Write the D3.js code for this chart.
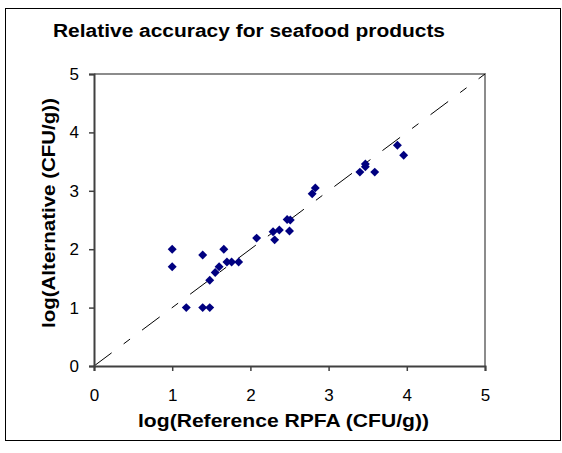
<!DOCTYPE html>
<html>
<head>
<meta charset="utf-8">
<script src="https://cdn.jsdelivr.net/npm/d3@7"></script>
<style>
  body { margin: 0; background: #fff; }
  text { font-family: Arial, "Liberation Sans", sans-serif; }
</style>
</head>
<body>
<svg id="chart" width="562" height="453"></svg>
<script>
// log(Reference RPFA) vs log(Alternative)
var refValues = [1.00, 1.00, 1.39, 1.66, 1.18, 1.39, 1.48, 1.48, 1.55, 1.60,
                 1.70, 1.76, 1.85, 2.08, 2.29, 2.31, 2.37, 2.50, 2.47, 2.51,
                 2.79, 2.83, 3.40, 3.47, 3.47, 3.59, 3.96, 3.88];
var altValues = [2.00, 1.70, 1.90, 2.00, 1.00, 1.00, 1.00, 1.47, 1.60, 1.70,
                 1.78, 1.78, 1.78, 2.19, 2.30, 2.16, 2.33, 2.31, 2.51, 2.50,
                 2.95, 3.05, 3.32, 3.46, 3.41, 3.32, 3.61, 3.78];
var xTicks = [0, 1, 2, 3, 4, 5];
var yTicks = [0, 1, 2, 3, 4, 5];

var svg = d3.select("#chart");
var margin = {left: 94, top: 74, right: 77, bottom: 87};
var width = 562 - margin.left - margin.right,
    height = 453 - margin.top - margin.bottom;

// outer frame
svg.append("rect")
  .attr("x", 5.5).attr("y", 8.5)
  .attr("width", 555).attr("height", 432)
  .attr("fill", "none").attr("stroke", "#000").attr("stroke-width", 1);

svg.append("text")
  .attr("x", 53).attr("y", 37)
  .attr("font-size", "17.5px").attr("font-weight", "bold")
  .attr("textLength", 392).attr("lengthAdjust", "spacingAndGlyphs")
  .text("Relative accuracy for seafood products");

var g = svg.append("g")
  .attr("transform", "translate(" + margin.left + "," + margin.top + ")");

var x = d3.scaleLinear().domain([0, 5]).range([0, width]);
var y = d3.scaleLinear().domain([0, 5]).range([height, 0]);

// grey plot border (top and right)
g.append("path")
  .attr("d", "M0,0H" + width + "V" + height)
  .attr("fill", "none").attr("stroke", "#8c8c8c").attr("stroke-width", 2);

// y = x reference line
g.append("line")
  .attr("x1", x(0)).attr("y1", y(0))
  .attr("x2", x(5)).attr("y2", y(5))
  .attr("stroke", "#000").attr("stroke-width", 1)
  .attr("stroke-dasharray", "22,15,8,15");

var xAxis = g.append("g")
  .attr("transform", "translate(0," + height + ")")
  .call(d3.axisBottom(x).tickValues(xTicks).tickSize(5).tickPadding(18).tickFormat(d3.format("d")));

var yAxis = g.append("g")
  .call(d3.axisLeft(y).tickValues(yTicks).tickSize(5).tickPadding(10).tickFormat(d3.format("d")));

[xAxis, yAxis].forEach(function(a){
  a.select(".domain").attr("stroke", "#404040").attr("stroke-width", 2);
  a.selectAll(".tick line").attr("stroke", "#404040").attr("stroke-width", 1.5);
  a.selectAll(".tick text").attr("font-size", "17px").attr("fill", "#000")
    .attr("font-family", "Arial, 'Liberation Sans', sans-serif");
});

var diamond = d3.symbol().type(d3.symbolSquare).size(40);
g.selectAll(".pt")
  .data(refValues)
  .enter().append("path")
  .attr("class", "pt")
  .attr("d", diamond)
  .attr("transform", function(d, i) { return "translate(" + x(d) + "," + y(altValues[i]) + ") rotate(45)"; })
  .attr("fill", "#000080");

svg.append("text")
  .attr("x", 283.5).attr("y", 427)
  .attr("text-anchor", "middle")
  .attr("font-size", "17.5px").attr("font-weight", "bold")
  .attr("textLength", 291).attr("lengthAdjust", "spacingAndGlyphs")
  .text("log(Reference RPFA (CFU/g))");

svg.append("text")
  .attr("transform", "translate(54.5,213) rotate(-90)")
  .attr("text-anchor", "middle")
  .attr("font-size", "17.5px").attr("font-weight", "bold")
  .attr("textLength", 230).attr("lengthAdjust", "spacingAndGlyphs")
  .text("log(Alternative (CFU/g))");
</script>
</body>
</html>
